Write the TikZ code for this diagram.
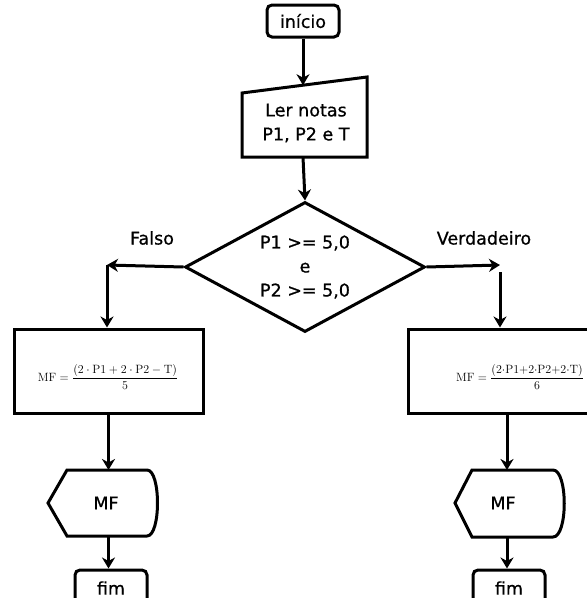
\documentclass[tikz,border=0pt]{standalone}
\usepackage[no-math]{fontspec}
\setmainfont{DejaVu Sans}[FakeBold=0.8]
\usetikzlibrary{shapes.geometric,arrows.meta}
\begin{document}
\begin{tikzpicture}[x=1pt,y=-1pt,
  line width=3pt,
  txt/.style={font=\fontsize{17.5}{24}\selectfont, inner sep=0pt, align=center},
  form/.style={font=\fontsize{12}{14}\selectfont, inner sep=0pt},
  arr/.style={-{Stealth[length=11pt,width=13pt,inset=3.5pt]}},
  term/.style={draw, rounded corners=5pt, minimum width=72pt, inner sep=0pt, txt},
  proc/.style={draw, minimum height=84pt, inner sep=0pt}]
\useasboundingbox (0,0) rectangle (587,598);
% start
\node[term, minimum height=32pt] (inicio) at (303,21) {início};
% input
\draw (242,93) -- (367,77) -- (367,157) -- (242,157) -- cycle;
\node[txt] (ler) at (306,123) {Ler notas\\P1, P2 e T};
\coordinate (lerTop) at (303,85.2);
\coordinate (lerBot) at (303,157);
% decision
\node[draw, diamond, minimum width=240pt, minimum height=130pt, inner sep=0pt] (dec) at (305,267) {};
\node[txt] (cond) at (305,267) {P1 >= 5,0\\e\\P2 >= 5,0};
\node[txt] (falso) at (152,238) {Falso};
\node[txt] (verd) at (484,238) {Verdadeiro};
% process boxes
\node[proc, minimum width=189pt] (mfL) at (108.5,371) {};
\node[form] (fL) at (108,377) {$\displaystyle\mathrm{MF}=\frac{(2\cdot\mathrm{P1}+2\cdot\mathrm{P2}-\mathrm{T})}{5}$};
\node[proc, minimum width=187pt] (mfR) at (501.5,371) {};
\node[form, font=\fontsize{11.5}{14}\selectfont] (fR) at (520,377) {$\displaystyle\mathrm{MF}=\frac{(2{\cdot}\mathrm{P1}{+}2{\cdot}\mathrm{P2}{+}2{\cdot}\mathrm{T})}{6}$};
% displays
\draw (48,503) -- (67,470) -- (147,470) .. controls (161,470) and (161,536) .. (147,536) -- (67,536) -- cycle;
\node[txt] (dispL) at (106,503) {MF};
\coordinate (dLt) at (108.5,470);
\coordinate (dLb) at (108.5,536);
\draw (455,503) -- (472,470) -- (553,470) .. controls (568,470) and (568,537) .. (553,537) -- (472,537) -- cycle;
\node[txt] (dispR) at (503,503) {MF};
\coordinate (dRt) at (507,470);
\coordinate (dRb) at (507,537);
% ends
\node[term, minimum height=36pt] (fimL) at (111,588) {fim};
\node[term, minimum height=36pt] (fimR) at (509,588) {fim};
% connectors
\draw[arr] (inicio.south) -- (lerTop);
\draw[arr] (lerBot) -- (dec.north);
\coordinate (fk) at (107,265);
\draw[arr] (dec.west) -- (fk);
\draw[arr] (fk) -- (fk |- mfL.north);
\coordinate (vk) at (500,265);
\coordinate (vk2) at (500,272);
\draw[arr] (dec.east) -- (vk);
\draw[arr] (vk2) -- (vk2 |- mfR.north);
\draw[arr] (mfL.south -| dLt) -- (dLt);
\draw[arr] (dLb) -- (dLb |- fimL.north);
\draw[arr] (mfR.south -| dRt) -- (dRt);
\draw[arr] (dRb) -- (dRb |- fimR.north);
\end{tikzpicture}
\end{document}
